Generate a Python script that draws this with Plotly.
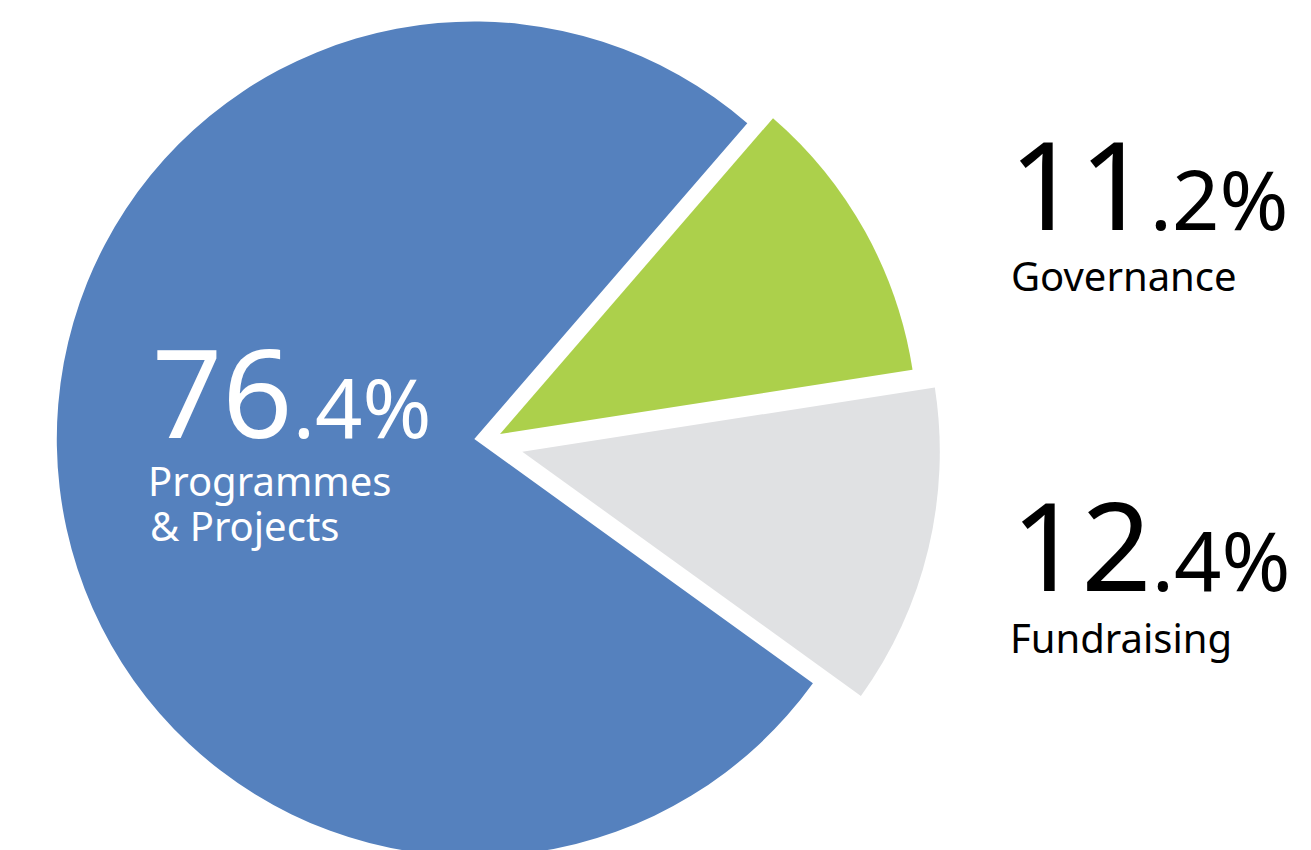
import plotly.graph_objects as go

# ---- data ----
categories = ["Programmes & Projects", "Governance", "Fundraising"]
label_lines = [["Programmes", "& Projects"], ["Governance"], ["Fundraising"]]
values = [76.4, 11.2, 12.4]
colors = ["#5581BE", "#ACD04B", "#E0E1E3"]
text_colors = ["white", "black", "black"]

# ---- layout geometry (pixels, figure coordinates) ----
W, H = 1311, 880
R = 417.5
START_ANGLE = 125.8
centers = [(466.3, 431.0), (492.0, 426.0), (514.3, 443.7)]

FONT = "Noto Sans"
BIG, MID, LBL = 123, 83, 40
# annotation boxes: (left, bottom)
num_pos = [(142, 468), (999, 260), (1001, 621)]
lbl_pos = [[(138, 502), (140, 547)], [(1001, 297)], [(1000, 659)]]

fig = go.Figure()
for i, (cx, cy) in enumerate(centers):
    cols = [colors[j] if j == i else "rgba(0,0,0,0)" for j in range(len(values))]
    fig.add_trace(go.Pie(
        labels=categories, values=values, sort=False, direction="clockwise",
        rotation=START_ANGLE, textinfo="none", hoverinfo="skip", showlegend=False,
        marker=dict(colors=cols, line=dict(width=0)),
        domain=dict(x=[(cx - R) / W, (cx + R) / W], y=[1 - (cy + R) / H, 1 - (cy - R) / H]),
    ))

def px(x, y):
    return x / W, 1 - y / H

annotations = []
for i, v in enumerate(values):
    whole = int(v)
    dec = f"{v:.1f}".split(".")[1]
    x, y = px(*num_pos[i])
    annotations.append(dict(
        x=x, y=y, xref="paper", yref="paper", xanchor="left", yanchor="bottom",
        showarrow=False, align="left",
        text=f"<span style='font-size:{BIG}px'>{whole}</span>.{dec}%",
        font=dict(family=FONT, size=MID, color=text_colors[i]),
    ))
    for line, (lx, ly) in zip(label_lines[i], lbl_pos[i]):
        x, y = px(lx, ly)
        annotations.append(dict(
            x=x, y=y, xref="paper", yref="paper", xanchor="left", yanchor="bottom",
            showarrow=False, align="left", text=line.replace("&", "&amp;"),
            font=dict(family=FONT, size=LBL, color=text_colors[i]),
        ))

fig.update_layout(
    width=W, height=H, margin=dict(l=0, r=0, t=0, b=0),
    paper_bgcolor="white", plot_bgcolor="white",
    annotations=annotations,
)
fig.write_html("out.html")
